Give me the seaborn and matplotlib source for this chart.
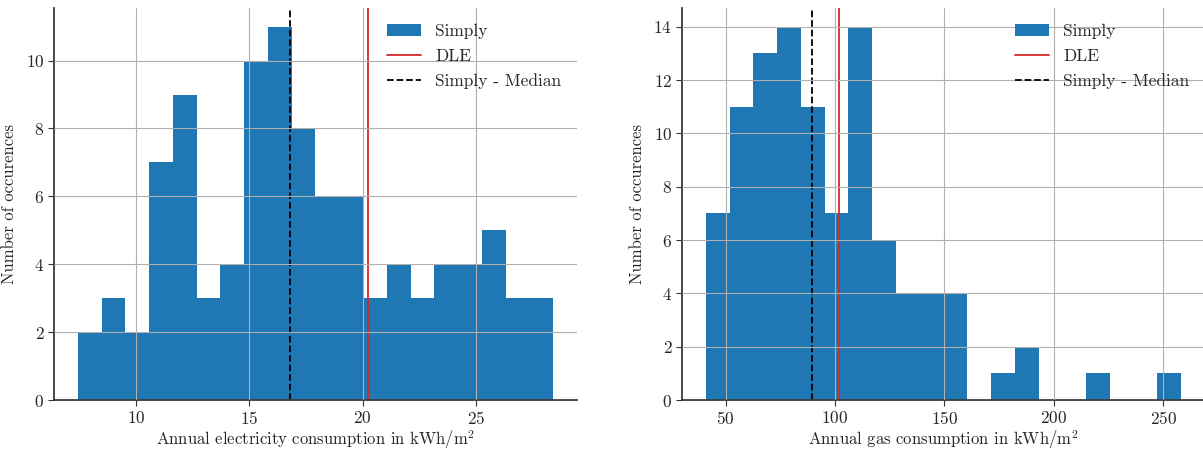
import numpy as np
import pandas as pd
from matplotlib import pyplot as plt
import seaborn as sns

# counts per bin (20 bins each)
elec_counts = [2, 3, 2, 7, 9, 3, 4, 10, 11, 8, 6, 6, 3, 4, 3, 4, 4, 5, 3, 3]
elec_range = (7.44, 28.40)
elec_median = 16.78
elec_dle = 20.25

gas_counts = [7, 11, 13, 14, 11, 7, 14, 6, 4, 4, 4, 0, 1, 2, 0, 0, 1, 0, 0, 1]
gas_range = (40.9, 258.2)
gas_median = 89.4
gas_dle = 101.7

sns.set_theme(style="ticks")
plt.rcParams["font.family"] = ["cmr10", "DejaVu Serif"]
plt.rcParams["mathtext.fontset"] = "cm"
plt.rcParams["axes.formatter.use_mathtext"] = True
fs = 12


def hist_panel(ax, counts, rng, median, dle, xlabel):
    edges = np.linspace(rng[0], rng[1], len(counts) + 1)
    df = pd.DataFrame({"value": (edges[:-1] + edges[1:]) / 2, "count": counts})
    sns.histplot(data=df, x="value", weights="count", bins=len(counts), binrange=rng,
                 color="#1f77b4", alpha=1, linewidth=0, ax=ax, label="Simply")
    ax.axvline(dle, color="#d62728", lw=1.3, label="DLE")
    ax.axvline(median, color="black", lw=1.3, ls="--", label="Simply - Median")
    ax.set_axisbelow(False)
    ax.grid(True, color="#b0b0b0", lw=0.8)
    ax.set_xlabel(xlabel, fontsize=fs, labelpad=1)
    ax.set_ylabel("Number of occurences", fontsize=fs, labelpad=6)
    ax.tick_params(labelsize=fs + 0.5, length=4, width=0.8, color="#333333", pad=3)
    for s in ["left", "bottom"]:
        ax.spines[s].set_color("#333333")
    sns.despine(ax=ax)
    h, l = ax.get_legend_handles_labels()
    order = [l.index("Simply"), l.index("DLE"), l.index("Simply - Median")]
    ax.legend([h[i] for i in order], [l[i] for i in order], loc="upper right",
              frameon=False, fontsize=fs + 0.5, labelspacing=0.55)


fig = plt.figure(figsize=(12.03, 4.5), dpi=100)
ax1 = fig.add_axes([0.0449, 0.1111, 0.4347, 0.8711])
ax2 = fig.add_axes([0.5669, 0.1111, 0.4347, 0.8711])

hist_panel(ax1, elec_counts, elec_range, elec_median, elec_dle,
           r"Annual electricity consumption in kWh/$\mathrm{m}^2$")
hist_panel(ax2, gas_counts, gas_range, gas_median, gas_dle,
           r"Annual gas consumption in kWh/$\mathrm{m}^2$")

plt.savefig("out.png", dpi=100)
